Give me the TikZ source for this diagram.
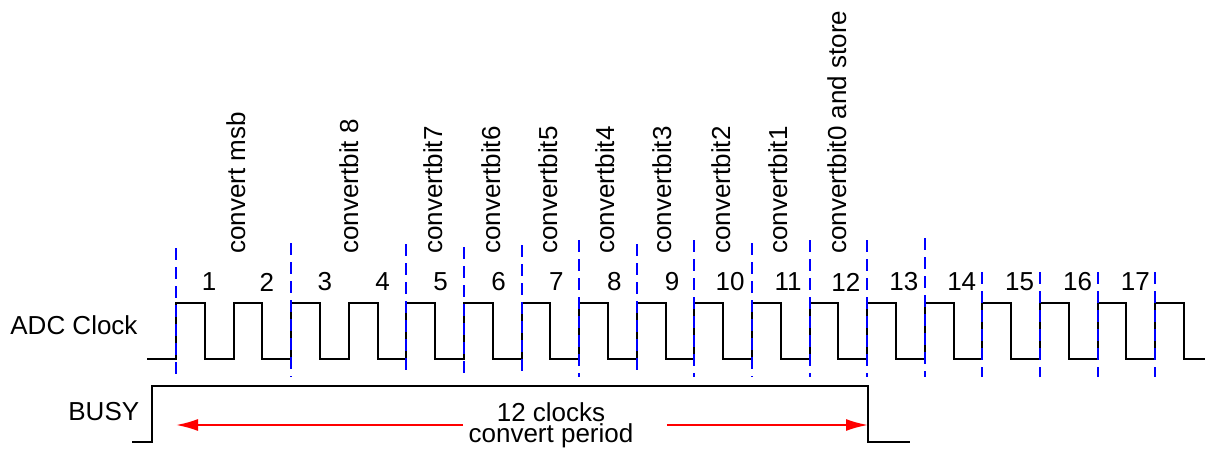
\documentclass[tikz,border=0pt]{standalone}
\usepackage{fontspec}
\setmainfont{Liberation Sans}
\usetikzlibrary{arrows.meta}
\begin{document}
\begin{tikzpicture}[x=0.5pt, y=-0.5pt, line join=miter, font=\fontsize{13}{15}\selectfont]
  \definecolor{cSig}{RGB}{0, 0, 0}
  \definecolor{cMark}{RGB}{0, 0, 255}
  \definecolor{cSpan}{RGB}{255, 0, 0}

  \useasboundingbox (0,0) rectangle (1205,449);

  \draw[cSig, line width=1pt] (147,359)
    foreach \k in {0,...,17} { -- ({176+57.6*\k},359) -- ++(0,-56) -- ++(28.8,0) -- ++(0,56) }
    -- (1205,359);
  \draw[cSig, line width=1pt] (132,442) -- (152,442) -- (152,386) -- (868,386) -- (868,442) -- (910,442);

  \foreach \k/\yt in {0/248, 2/243, 4/244, 5/247, 6/245, 7/240, 8/244, 9/240, 10/243,
                      11/240, 12/240, 13/238, 14/272, 15/272, 16/272, 17/272}
    \draw[cMark, line width=1pt, dash pattern=on 6pt off 3.5pt] ({176+57.6*\k},\yt) -- ({176+57.6*\k},377);

  \foreach \k in {1,...,17}
    \node (clk\k) at ({209+57.9*(\k-1)},282) {\k};

  \foreach \x/\txt [count=\i] in {245/convert msb, 358/convertbit 8, 442/convertbit7, 500/convertbit6,
                                  557/convertbit5, 614/convertbit4, 671/convertbit3, 730/convertbit2,
                                  787/convertbit1, 846/convertbit0 and store}
    \node[rotate=90, anchor=base west, inner sep=0pt] (step\i) at (\x,254) {\txt};

  \node[anchor=base west, inner sep=0pt] (adc) at (10,334) {ADC Clock};
  \node[anchor=base west, inner sep=0pt] (busy) at (68,420) {BUSY};

  \node[anchor=base, inner sep=0pt] (clocks) at (551,421.5) {12 clocks};
  \node[anchor=base, inner sep=0pt] (period) at (551,442.5) {convert period};
  \coordinate (spanL) at (176,425);
  \coordinate (spanR) at (868,425);
  \draw[cSpan, line width=1pt, -{Latex[length=11pt, width=6pt]}] ([xshift=-2.5pt]period.west |- spanL) -- (spanL);
  \draw[cSpan, line width=1pt, -{Latex[length=11pt, width=6pt]}] ([xshift=16.5pt]period.east |- spanR) -- (spanR);
\end{tikzpicture}
\end{document}
